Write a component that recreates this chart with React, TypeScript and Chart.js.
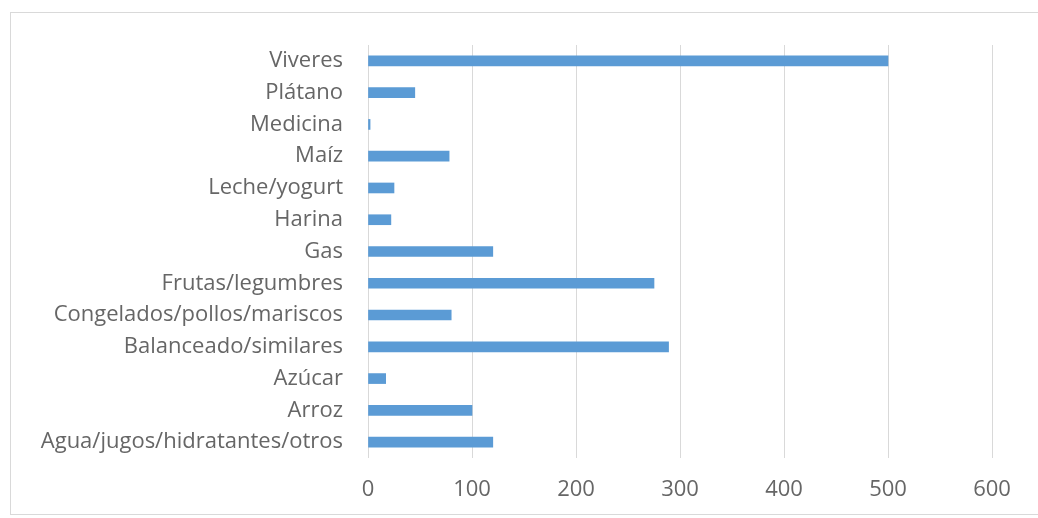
import React, { useEffect, useRef } from "react";
import { Chart, registerables } from "chart.js";

Chart.register(...registerables);

const categories = [
  "Viveres",
  "Plátano",
  "Medicina",
  "Maíz",
  "Leche/yogurt",
  "Harina",
  "Gas",
  "Frutas/legumbres",
  "Congelados/pollos/mariscos",
  "Balanceado/similares",
  "Azúcar",
  "Arroz",
  "Agua/jugos/hidratantes/otros",
];

const values = [500, 45, 2, 78, 25, 22, 120, 275, 80, 289, 17, 100, 120];

const xMin = 0;
const xMax = 600;
const xStep = 100;

export default function App() {
  const ref = useRef<HTMLCanvasElement | null>(null);

  useEffect(() => {
    document.body.style.margin = "0";
    const canvas = ref.current;
    if (!canvas) return;
    const font = { family: "'Open Sans', Lato, sans-serif", size: 22 };
    const chart = new Chart(canvas, {
      type: "bar",
      data: {
        labels: categories,
        datasets: [
          {
            data: values,
            backgroundColor: "#5B9BD5",
            borderWidth: 0,
            barThickness: 10,
          },
        ],
      },
      options: {
        indexAxis: "y",
        animation: false,
        responsive: false,
        maintainAspectRatio: false,
        layout: { padding: { top: 45, right: 46, left: 0, bottom: 0 } },
        plugins: { legend: { display: false }, tooltip: { enabled: false } },
        scales: {
          x: {
            min: xMin,
            max: xMax,
            ticks: { stepSize: xStep, color: "#666666", font, padding: 19 },
            grid: { color: "#d9d9d9", drawTicks: false, lineWidth: 1 },
            border: { display: false },
            afterFit: (scale: any) => {
              scale.height = 60;
            },
          },
          y: {
            ticks: { color: "#666666", font, padding: 25, autoSkip: false },
            grid: { display: false, drawTicks: false },
            border: { display: false },
            afterFit: (scale: any) => {
              scale.width = 368;
            },
          },
        },
      },
    });
    return () => chart.destroy();
  }, []);

  return (
    <div style={{ position: "relative", width: 1038, height: 518, overflow: "hidden", background: "#fff" }}>
      <div
        style={{
          position: "absolute",
          left: 10,
          top: 12,
          width: 1060,
          height: 503,
          border: "1.5px solid #d9d9d9",
          boxSizing: "border-box",
        }}
      />
      <canvas ref={ref} width={1038} height={518} style={{ position: "absolute", left: 0, top: 0 }} />
    </div>
  );
}
